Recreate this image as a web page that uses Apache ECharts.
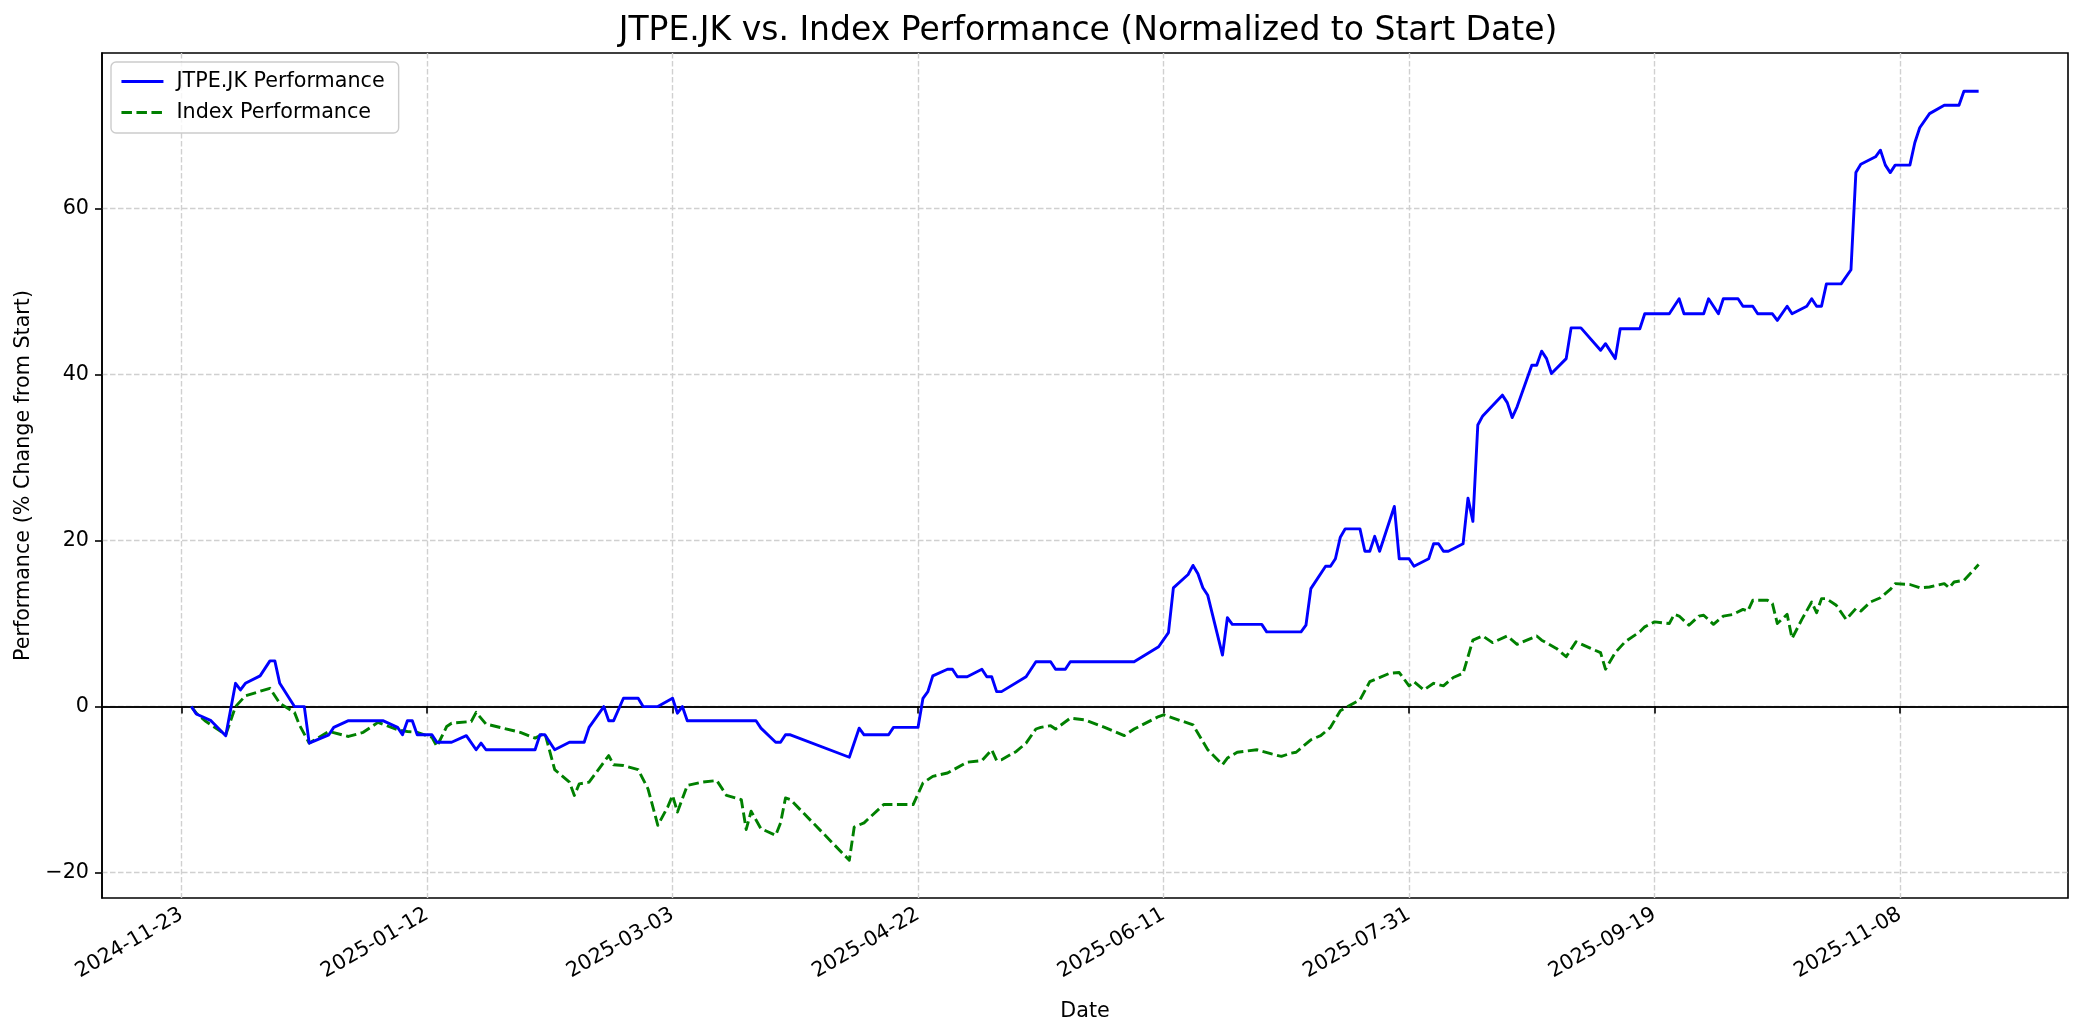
<!DOCTYPE html>
<html>
<head>
<meta charset="utf-8">
<script src="https://cdn.jsdelivr.net/npm/echarts@6/dist/echarts.min.js"></script>
<style>
html,body{margin:0;padding:0;background:#fff;}
#chart{width:2084px;height:1035px;}
</style>
</head>
<body>
<div id="chart"></div>
<script>
// ---- data ----
const xTickLabels = ['2024-11-23','2025-01-12','2025-03-03','2025-04-22','2025-06-11','2025-07-31','2025-09-19','2025-11-08'];
const yTickValues = [-20, 0, 20, 40, 60];

const jtpeData = [
['2024-11-25',0],['2024-11-26',-0.9],['2024-11-29',-1.7],['2024-12-02',-3.5],['2024-12-04',2.8],['2024-12-05',2.0],['2024-12-06',2.8],['2024-12-09',3.7],['2024-12-11',5.5],['2024-12-12',5.5],['2024-12-13',2.8],['2024-12-16',0],['2024-12-18',0],['2024-12-19',-4.4],['2024-12-23',-3.4],['2024-12-24',-2.5],['2024-12-27',-1.7],
['2025-01-03',-1.7],['2025-01-06',-2.5],['2025-01-07',-3.4],['2025-01-08',-1.7],['2025-01-09',-1.7],['2025-01-10',-3.4],['2025-01-13',-3.4],['2025-01-14',-4.3],['2025-01-17',-4.3],['2025-01-20',-3.5],['2025-01-22',-5.2],['2025-01-23',-4.4],['2025-01-24',-5.2],
['2025-02-03',-5.2],['2025-02-04',-3.4],['2025-02-05',-3.4],['2025-02-07',-5.2],['2025-02-10',-4.3],['2025-02-13',-4.3],['2025-02-14',-2.5],['2025-02-17',0],['2025-02-18',-1.7],['2025-02-19',-1.7],['2025-02-21',1.0],['2025-02-24',1.0],['2025-02-25',0],['2025-02-28',0],
['2025-03-03',1.0],['2025-03-04',-0.8],['2025-03-05',0],['2025-03-06',-1.7],['2025-03-20',-1.7],['2025-03-21',-2.6],['2025-03-24',-4.3],['2025-03-25',-4.3],['2025-03-26',-3.4],['2025-03-27',-3.4],
['2025-04-08',-6.1],['2025-04-10',-2.6],['2025-04-11',-3.4],['2025-04-16',-3.4],['2025-04-17',-2.5],['2025-04-22',-2.5],['2025-04-23',1.0],['2025-04-24',1.8],['2025-04-25',3.7],['2025-04-28',4.5],['2025-04-29',4.5],['2025-04-30',3.6],
['2025-05-02',3.6],['2025-05-05',4.5],['2025-05-06',3.6],['2025-05-07',3.6],['2025-05-08',1.8],['2025-05-09',1.8],['2025-05-14',3.6],['2025-05-16',5.4],['2025-05-19',5.4],['2025-05-20',4.5],['2025-05-22',4.5],['2025-05-23',5.4],
['2025-06-05',5.4],['2025-06-10',7.2],['2025-06-12',8.9],['2025-06-13',14.3],['2025-06-16',15.9],['2025-06-17',17.0],['2025-06-18',16.0],['2025-06-19',14.3],['2025-06-20',13.4],['2025-06-23',6.2],['2025-06-24',10.7],['2025-06-25',9.9],
['2025-07-01',9.9],['2025-07-02',9.0],['2025-07-09',9.0],['2025-07-10',9.8],['2025-07-11',14.2],['2025-07-14',16.9],['2025-07-15',16.9],['2025-07-16',17.8],['2025-07-17',20.4],['2025-07-18',21.4],['2025-07-21',21.4],['2025-07-22',18.7],['2025-07-23',18.7],['2025-07-24',20.5],['2025-07-25',18.7],['2025-07-28',24.1],['2025-07-29',17.8],['2025-07-31',17.8],
['2025-08-01',16.9],['2025-08-04',17.8],['2025-08-05',19.6],['2025-08-06',19.6],['2025-08-07',18.7],['2025-08-08',18.7],['2025-08-11',19.6],['2025-08-12',25.1],['2025-08-13',22.3],['2025-08-14',33.9],['2025-08-15',35.0],['2025-08-19',37.5],['2025-08-20',36.6],['2025-08-21',34.8],['2025-08-22',36.1],['2025-08-25',41.1],['2025-08-26',41.1],['2025-08-27',42.8],['2025-08-28',41.9],['2025-08-29',40.1],
['2025-09-01',41.9],['2025-09-02',45.6],['2025-09-04',45.6],['2025-09-08',42.9],['2025-09-09',43.7],['2025-09-11',41.9],['2025-09-12',45.5],['2025-09-16',45.5],['2025-09-17',47.3],['2025-09-22',47.3],['2025-09-24',49.1],['2025-09-25',47.3],['2025-09-29',47.3],['2025-09-30',49.1],
['2025-10-02',47.3],['2025-10-03',49.1],['2025-10-06',49.1],['2025-10-07',48.2],['2025-10-09',48.2],['2025-10-10',47.3],['2025-10-13',47.3],['2025-10-14',46.5],['2025-10-16',48.2],['2025-10-17',47.3],['2025-10-20',48.2],['2025-10-21',49.1],['2025-10-22',48.2],['2025-10-23',48.2],['2025-10-24',50.9],['2025-10-27',50.9],['2025-10-29',52.6],['2025-10-30',64.3],['2025-10-31',65.3],
['2025-11-03',66.2],['2025-11-04',67.0],['2025-11-05',65.2],['2025-11-06',64.3],['2025-11-07',65.2],['2025-11-10',65.2],['2025-11-11',67.9],['2025-11-12',69.7],['2025-11-14',71.4],['2025-11-17',72.4],['2025-11-20',72.4],['2025-11-21',74.1],['2025-11-24',74.1]
];

const indexData = [
['2024-11-25',0],['2024-11-26',-0.8],['2024-11-28',-1.8],['2024-12-02',-3.4],['2024-12-04',0],['2024-12-06',1.3],['2024-12-11',2.2],['2024-12-13',0.4],['2024-12-16',-0.7],['2024-12-17',-2.2],['2024-12-19',-4.4],['2024-12-23',-3.0],['2024-12-27',-3.6],['2024-12-30',-3.1],
['2025-01-02',-1.9],['2025-01-06',-2.8],['2025-01-08',-3.0],['2025-01-10',-3.1],['2025-01-13',-3.7],['2025-01-14',-4.8],['2025-01-16',-2.4],['2025-01-17',-2.0],['2025-01-21',-1.8],['2025-01-22',-0.7],['2025-01-24',-2.1],['2025-01-31',-3.1],
['2025-02-03',-3.8],['2025-02-05',-3.2],['2025-02-07',-7.6],['2025-02-10',-9.1],['2025-02-11',-10.7],['2025-02-12',-9.3],['2025-02-14',-9.1],['2025-02-18',-5.9],['2025-02-19',-7.0],['2025-02-21',-7.1],['2025-02-24',-7.6],['2025-02-26',-9.9],['2025-02-28',-14.3],
['2025-03-02',-12.1],['2025-03-03',-10.7],['2025-03-04',-12.7],['2025-03-06',-9.5],['2025-03-09',-9.1],['2025-03-12',-8.9],['2025-03-14',-10.7],['2025-03-17',-11.2],['2025-03-18',-14.8],['2025-03-19',-12.6],['2025-03-21',-14.7],['2025-03-24',-15.5],['2025-03-25',-14.0],['2025-03-26',-11.0],['2025-03-27',-11.2],
['2025-04-08',-18.5],['2025-04-09',-14.5],['2025-04-11',-14.0],['2025-04-15',-11.8],['2025-04-16',-11.8],['2025-04-21',-11.8],['2025-04-23',-9.2],['2025-04-25',-8.4],['2025-04-28',-8.0],
['2025-05-02',-6.7],['2025-05-05',-6.5],['2025-05-07',-5.2],['2025-05-08',-6.5],['2025-05-09',-6.4],['2025-05-12',-5.4],['2025-05-14',-4.4],['2025-05-16',-2.7],['2025-05-17',-2.5],['2025-05-19',-2.3],['2025-05-20',-2.7],['2025-05-23',-1.4],['2025-05-26',-1.6],['2025-05-30',-2.5],
['2025-06-03',-3.5],['2025-06-05',-2.7],['2025-06-10',-1.2],['2025-06-11',-1.0],['2025-06-17',-2.2],['2025-06-20',-5.2],['2025-06-23',-7.0],['2025-06-24',-6.2],['2025-06-26',-5.5],['2025-06-30',-5.2],
['2025-07-03',-5.7],['2025-07-05',-6.0],['2025-07-07',-5.6],['2025-07-08',-5.5],['2025-07-11',-4.0],['2025-07-13',-3.5],['2025-07-15',-2.5],['2025-07-17',-0.5],['2025-07-20',0.5],['2025-07-21',0.8],['2025-07-23',3.0],['2025-07-27',4.0],['2025-07-29',4.1],['2025-07-31',2.5],
['2025-08-01',3.0],['2025-08-03',2.0],['2025-08-05',2.8],['2025-08-07',2.5],['2025-08-09',3.5],['2025-08-11',4.0],['2025-08-13',8.0],['2025-08-15',8.5],['2025-08-17',7.7],['2025-08-20',8.5],['2025-08-22',7.5],['2025-08-24',8.0],['2025-08-26',8.5],['2025-08-27',8.0],['2025-08-30',7.0],
['2025-09-01',6.0],['2025-09-03',7.8],['2025-09-06',7.0],['2025-09-08',6.5],['2025-09-09',4.5],['2025-09-11',6.5],['2025-09-13',7.8],['2025-09-16',9.0],['2025-09-17',9.6],['2025-09-19',10.2],['2025-09-22',10.0],['2025-09-23',11.1],['2025-09-24',10.9],['2025-09-26',9.8],['2025-09-28',10.9],['2025-09-29',11.0],
['2025-10-01',9.9],['2025-10-03',10.9],['2025-10-05',11.1],['2025-10-07',11.7],['2025-10-08',11.5],['2025-10-09',12.8],['2025-10-12',12.8],['2025-10-13',12.4],['2025-10-14',10.0],['2025-10-16',11.1],['2025-10-17',8.2],['2025-10-19',10.5],['2025-10-21',12.6],['2025-10-22',11.3],['2025-10-23',13.0],['2025-10-24',13.0],['2025-10-26',12.2],['2025-10-28',10.5],['2025-10-30',11.8],['2025-10-31',11.5],
['2025-11-02',12.6],['2025-11-04',13.1],['2025-11-06',14.1],['2025-11-07',14.8],['2025-11-10',14.7],['2025-11-12',14.3],['2025-11-14',14.4],['2025-11-17',14.8],['2025-11-18',14.3],['2025-11-19',15.0],['2025-11-21',15.2],['2025-11-24',17.1]
];

// ---- build chart ----
const ts = s => Date.parse(s + 'T00:00:00Z');
const toPoints = arr => arr.map(d => [ts(d[0]), d[1]]);
const pad2 = n => (n < 10 ? '0' : '') + n;
const fmtDate = v => { const d = new Date(v); return d.getUTCFullYear() + '-' + pad2(d.getUTCMonth() + 1) + '-' + pad2(d.getUTCDate()); };
const xTickValues = xTickLabels.map(ts);
const firstT = ts(jtpeData[0][0]), lastT = ts(jtpeData[jtpeData.length - 1][0]);
const span = lastT - firstT;
const FONT = 'DejaVu Sans';
const FS = 20.7;

const chart = echarts.init(document.getElementById('chart'), null, {renderer: 'canvas'});
chart.setOption({
  animation: false,
  backgroundColor: '#ffffff',
  textStyle: {fontFamily: FONT, color: '#000'},
  title: {
    text: 'JTPE.JK vs. Index Performance (Normalized to Start Date)',
    left: 1083, top: 10, textAlign: 'center',
    textStyle: {fontFamily: FONT, fontSize: 33, fontWeight: 'normal', color: '#000'}
  },
  legend: {
    orient: 'vertical', left: 111, top: 62,
    padding: [9, 14, 10, 9], itemGap: 10, itemWidth: 42, itemHeight: 20,
    backgroundColor: 'rgba(255,255,255,0.8)', borderColor: '#cccccc', borderWidth: 1.4, borderRadius: 5,
    itemStyle: {opacity: 0, borderWidth: 0},
    lineStyle: {width: 2.9},
    textStyle: {fontFamily: FONT, fontSize: FS, color: '#000', padding: [0, 0, 0, 8]},
    data: ['JTPE.JK Performance', 'Index Performance']
  },
  grid: {left: 102, right: 16, top: 53, bottom: 137, show: true, borderColor: '#000', borderWidth: 1.6, containLabel: false},
  xAxis: {
    type: 'value',
    min: firstT - span * 0.05, max: lastT + span * 0.05,
    name: 'Date', nameLocation: 'middle', nameGap: 103,
    nameTextStyle: {fontFamily: FONT, fontSize: FS, color: '#000'},
    axisLine: {show: true, lineStyle: {color: '#000', width: 1.6}},
    axisTick: {show: true, length: 7, lineStyle: {color: '#000', width: 1.6}, customValues: xTickValues},
    axisLabel: {customValues: xTickValues, rotate: 30, margin: 15, fontFamily: FONT, fontSize: FS, color: '#000', formatter: v => fmtDate(v)},
    splitLine: {show: true, lineStyle: {color: '#d0d0d0', width: 1.4, type: [5.5, 2.5]}}
  },
  yAxis: {
    type: 'value', min: -23.05, max: 78.7,
    name: 'Performance (% Change from Start)', nameLocation: 'middle', nameGap: 68,
    nameTextStyle: {fontFamily: FONT, fontSize: FS, color: '#000'},
    axisLine: {show: true, lineStyle: {color: '#000', width: 1.6}},
    axisTick: {show: true, length: 7, lineStyle: {color: '#000', width: 1.6}, customValues: yTickValues},
    axisLabel: {customValues: yTickValues, margin: 13, fontFamily: FONT, fontSize: FS, color: '#000', formatter: v => (v < 0 ? '\u2212' + Math.abs(v) : '' + v)},
    splitLine: {show: true, lineStyle: {color: '#d0d0d0', width: 1.4, type: [5.5, 2.5]}}
  },
  series: [
    {
      name: 'JTPE.JK Performance', type: 'line', data: toPoints(jtpeData),
      symbol: 'none', showSymbol: false, color: '#0000ff',
      lineStyle: {color: '#0000ff', width: 2.9, cap: 'butt', join: 'round'},
      z: 3,
      markLine: {
        silent: true, symbol: ['none', 'none'], label: {show: false},
        lineStyle: {color: '#000', width: 1.5, type: 'solid'},
        data: [{yAxis: 0}], z: 1
      }
    },
    {
      name: 'Index Performance', type: 'line', data: toPoints(indexData),
      symbol: 'none', showSymbol: false, color: '#008000',
      lineStyle: {color: '#008000', width: 2.9, type: [10.5, 4.5], cap: 'butt', join: 'round'},
      z: 2
    }
  ]
});
</script>
</body>
</html>
